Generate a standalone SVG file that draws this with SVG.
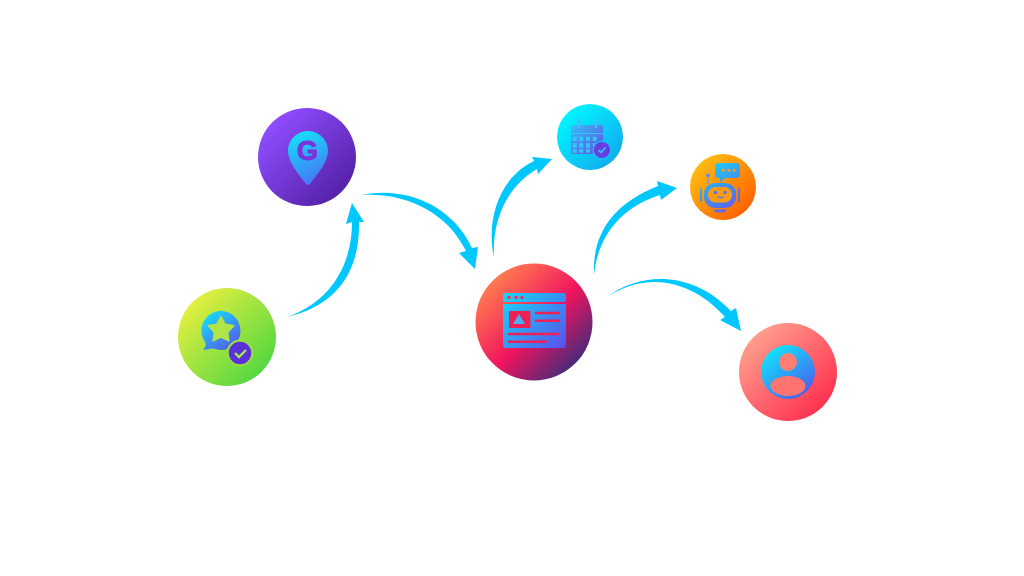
<svg xmlns="http://www.w3.org/2000/svg" width="1024" height="576" viewBox="0 0 1024 576">
<style>
.arrow{fill:#00c8ff}
</style>
<defs>
<linearGradient id="gG" x1="0.15" y1="0.15" x2="0.85" y2="0.85"><stop offset="0" stop-color="#8f4cff"/><stop offset="1" stop-color="#5522a8"/></linearGradient>
<linearGradient id="gR" x1="0.15" y1="0.15" x2="0.85" y2="0.85"><stop offset="0" stop-color="#e2ee40"/><stop offset="1" stop-color="#55d840"/></linearGradient>
<linearGradient id="gM" x1="0.15" y1="0.15" x2="0.85" y2="0.85"><stop offset="0" stop-color="#ff7a50"/><stop offset="0.55" stop-color="#f0145f"/><stop offset="1" stop-color="#4b2a78"/></linearGradient>
<linearGradient id="gC" x1="0.15" y1="0.15" x2="0.85" y2="0.85"><stop offset="0" stop-color="#00f4fe"/><stop offset="1" stop-color="#12aef0"/></linearGradient>
<linearGradient id="gB" x1="0.15" y1="0.15" x2="0.85" y2="0.85"><stop offset="0" stop-color="#ffba12"/><stop offset="1" stop-color="#ff6400"/></linearGradient>
<linearGradient id="gU" x1="0.15" y1="0.15" x2="0.85" y2="0.85"><stop offset="0" stop-color="#ff9c8c"/><stop offset="1" stop-color="#ff3350"/></linearGradient>
<linearGradient id="iG" gradientUnits="userSpaceOnUse" x1="295" y1="131" x2="320" y2="185"><stop offset="0" stop-color="#14e4fa"/><stop offset="1" stop-color="#4a6cf5"/></linearGradient>
<linearGradient id="iR" gradientUnits="userSpaceOnUse" x1="207" y1="312" x2="236" y2="350"><stop offset="0" stop-color="#14e0fa"/><stop offset="1" stop-color="#5a50e8"/></linearGradient>
<linearGradient id="iM" gradientUnits="userSpaceOnUse" x1="505" y1="293" x2="565" y2="348"><stop offset="0" stop-color="#14d8fa"/><stop offset="1" stop-color="#5a50ee"/></linearGradient>
<linearGradient id="iC" gradientUnits="userSpaceOnUse" x1="572" y1="120" x2="602" y2="155"><stop offset="0" stop-color="#30c8fa"/><stop offset="1" stop-color="#6a48e0"/></linearGradient>
<linearGradient id="iB" gradientUnits="userSpaceOnUse" x1="705" y1="163" x2="738" y2="213"><stop offset="0" stop-color="#14d8fa"/><stop offset="1" stop-color="#6a50e8"/></linearGradient>
<linearGradient id="iU" gradientUnits="userSpaceOnUse" x1="770" y1="350" x2="806" y2="395"><stop offset="0" stop-color="#10e4fc"/><stop offset="1" stop-color="#4a60f0"/></linearGradient>
</defs>
<rect width="1024" height="576" fill="#fff"/>

<g id="connectors">
<path class="arrow" d="M287,317 C328,303 352,268 352,222 L346,224 L352,203 L364,222 L359,222 C360,275 334,306 287,317 Z"/>
<path class="arrow" d="M362,195 C405,186 452,205 472,248 L478,247 L475,269 L459,253 L466,251 C447,212 405,192 362,195 Z"/>
<path class="arrow" d="M494,257 C486,222 498,178 534,161 L532,157 L552,159 L538,174 L537,169 C508,186 492,218 494,257 Z"/>
<path class="arrow" d="M594,275 C592,235 612,204 658,186 L657,181 L677,188 L661,200 L660,195 C622,207 598,235 594,275 Z"/>
<path class="arrow" d="M607,297 C640,272 692,270 731,311 L736,308 L741,331 L720,320 L725,317 C690,278 645,272 607,297 Z"/>
</g>

<g id="node-google">
<circle cx="307" cy="157" r="49" fill="url(#gG)"/>
<path d="M308,131 C319,131 328,140 328,151 C328,162 317,175 310,184 Q308,186 306,184 C299,175 288,162 288,151 C288,140 297,131 308,131 Z" fill="url(#iG)"/>
<text x="307.500" y="159.500" text-anchor="middle" font-family="Liberation Sans, Arial, sans-serif" font-weight="700" font-size="27" fill="#7a35dc" stroke="#7a35dc" stroke-width="0.9">G</text>
</g>

<g id="node-review">
<circle cx="227" cy="337" r="49" fill="url(#gR)"/>
<path d="M221,311 C232,311 240.500,320 240.500,331 C240.500,342 232,350 221,350 C217,350 215,348.500 212,348.500 C209,349.500 206,350 203,349.500 C205.500,347 206.500,345 205.500,343 C203,339 201.500,335 201.500,331 C201.500,320 210,311 221,311 Z" fill="url(#iR)"/>
<path d="M221,316.500 L225.100,324.300 L233.800,325.800 L227.700,332.200 L228.900,340.900 L221,337 L213.100,340.900 L214.300,332.200 L208.200,325.800 L216.900,324.300 Z" fill="#b0e448" stroke="#b0e448" stroke-width="1.500" stroke-linejoin="round"/>
<circle cx="240" cy="353" r="13.500" fill="#94de45"/>
<circle cx="240" cy="353" r="11.200" fill="#5a30d8"/>
<path d="M235,353 L239,357 L246,350" fill="none" stroke="#a8e650" stroke-width="2.400"/>
</g>

<g id="node-main">
<circle cx="534" cy="322" r="58.500" fill="url(#gM)"/>
<path d="M505,293 H564 Q566,293 566,295 V302 H503 V295 Q503,293 505,293 Z M503,304 H566 V345 Q566,348 563,348 H506 Q503,348 503,345 Z" fill="url(#iM)"/>
<circle cx="509" cy="297.500" r="1.800" fill="#f0305a"/>
<circle cx="516" cy="297.500" r="1.800" fill="#f0305a"/>
<circle cx="522" cy="297.500" r="1.800" fill="#f0305a"/>
<rect x="509" y="311" width="21.500" height="17" fill="#ee2058"/>
<path d="M519,314 L525,324 H513 Z" fill="#4ab0f5"/>
<path d="M536,313 H559 M536,320.700 H559 M509,334 H558 M509,341.700 H546" stroke="#ee2058" stroke-width="2.600" stroke-linecap="round" fill="none"/>
</g>

<g id="node-calendar">
<circle cx="590" cy="137" r="33" fill="url(#gC)"/>
<rect x="571" y="125" width="32" height="29" rx="2" fill="url(#iC)"/>
<path d="M579,120 V127 M596,120 V127" stroke="#4ab8f8" stroke-width="2.500" stroke-linecap="round" fill="none"/>
<path d="M572.700,136.700 H576.700 V141 H572.700 Z M579.300,136.700 H583.300 V141 H579.300 Z M586,136.700 H590 V141 H586 Z M592.700,136.700 H596.700 V141 H592.700 Z M572.700,143.300 H576.700 V147.700 H572.700 Z M579.300,143.300 H583.300 V147.700 H579.300 Z M586,143.300 H590 V147.700 H586 Z M592.700,143.300 H596 V146 H592.700 Z M572.700,149.300 H576.700 V152.700 H572.700 Z M579.300,149.300 H583.300 V152.700 H579.300 Z M586,149.300 H590 V152.700 H586 Z" fill="#2fc8fa"/>
<path d="M571,133.500 H603" stroke="#2fc8fa" stroke-width="1"/>
<circle cx="602" cy="150" r="9.500" fill="#0cc0f4"/>
<circle cx="602" cy="150" r="8" fill="#6a3ce2"/>
<path d="M598.500,150 L601,152.500 L605.500,147.500" fill="none" stroke="#20d0fa" stroke-width="1.700"/>
</g>

<g id="node-robot">
<circle cx="723" cy="187" r="33" fill="url(#gB)"/>
<path d="M719,163 H736 Q740,163 740,167 V174 Q740,178 736,178 H725 L720.500,183 L720,178 H719 Q715,178 715,174 V167 Q715,163 719,163 Z" fill="url(#iB)"/>
<circle cx="723.300" cy="170.300" r="1.500" fill="#ff9a10"/>
<circle cx="729" cy="170.300" r="1.500" fill="#ff9a10"/>
<circle cx="734.300" cy="170.300" r="1.500" fill="#ff9a10"/>
<rect x="704" y="183" width="32" height="25" rx="11" fill="url(#iB)"/>
<rect x="708" y="187" width="24" height="15.500" rx="7.500" fill="#ff9d12"/>
<circle cx="715.500" cy="192.500" r="1.800" fill="#5a70ee"/>
<circle cx="725" cy="192.500" r="1.800" fill="#5a70ee"/>
<path d="M717.500,196.500 Q720.500,199 723.500,196.500" fill="none" stroke="#5a70ee" stroke-width="1.300"/>
<circle cx="708" cy="175.500" r="2" fill="#5a90f0"/>
<path d="M708,177.500 V184" stroke="#5a90f0" stroke-width="1"/>
<path d="M701,189 V201 M739,189 V201" stroke="url(#iB)" stroke-width="2" stroke-linecap="round" fill="none"/>
<path d="M713,209.500 H727 L724,212.500 H716 Z" fill="url(#iB)"/>
</g>

<g id="node-user">
<circle cx="788" cy="372" r="49" fill="url(#gU)"/>
<circle cx="788" cy="372" r="27" fill="url(#iU)"/>
<circle cx="788" cy="362" r="9" fill="#ff7f72"/>
<ellipse cx="788" cy="386" rx="17.500" ry="10" fill="#ff7470"/>
</g>
</svg>
